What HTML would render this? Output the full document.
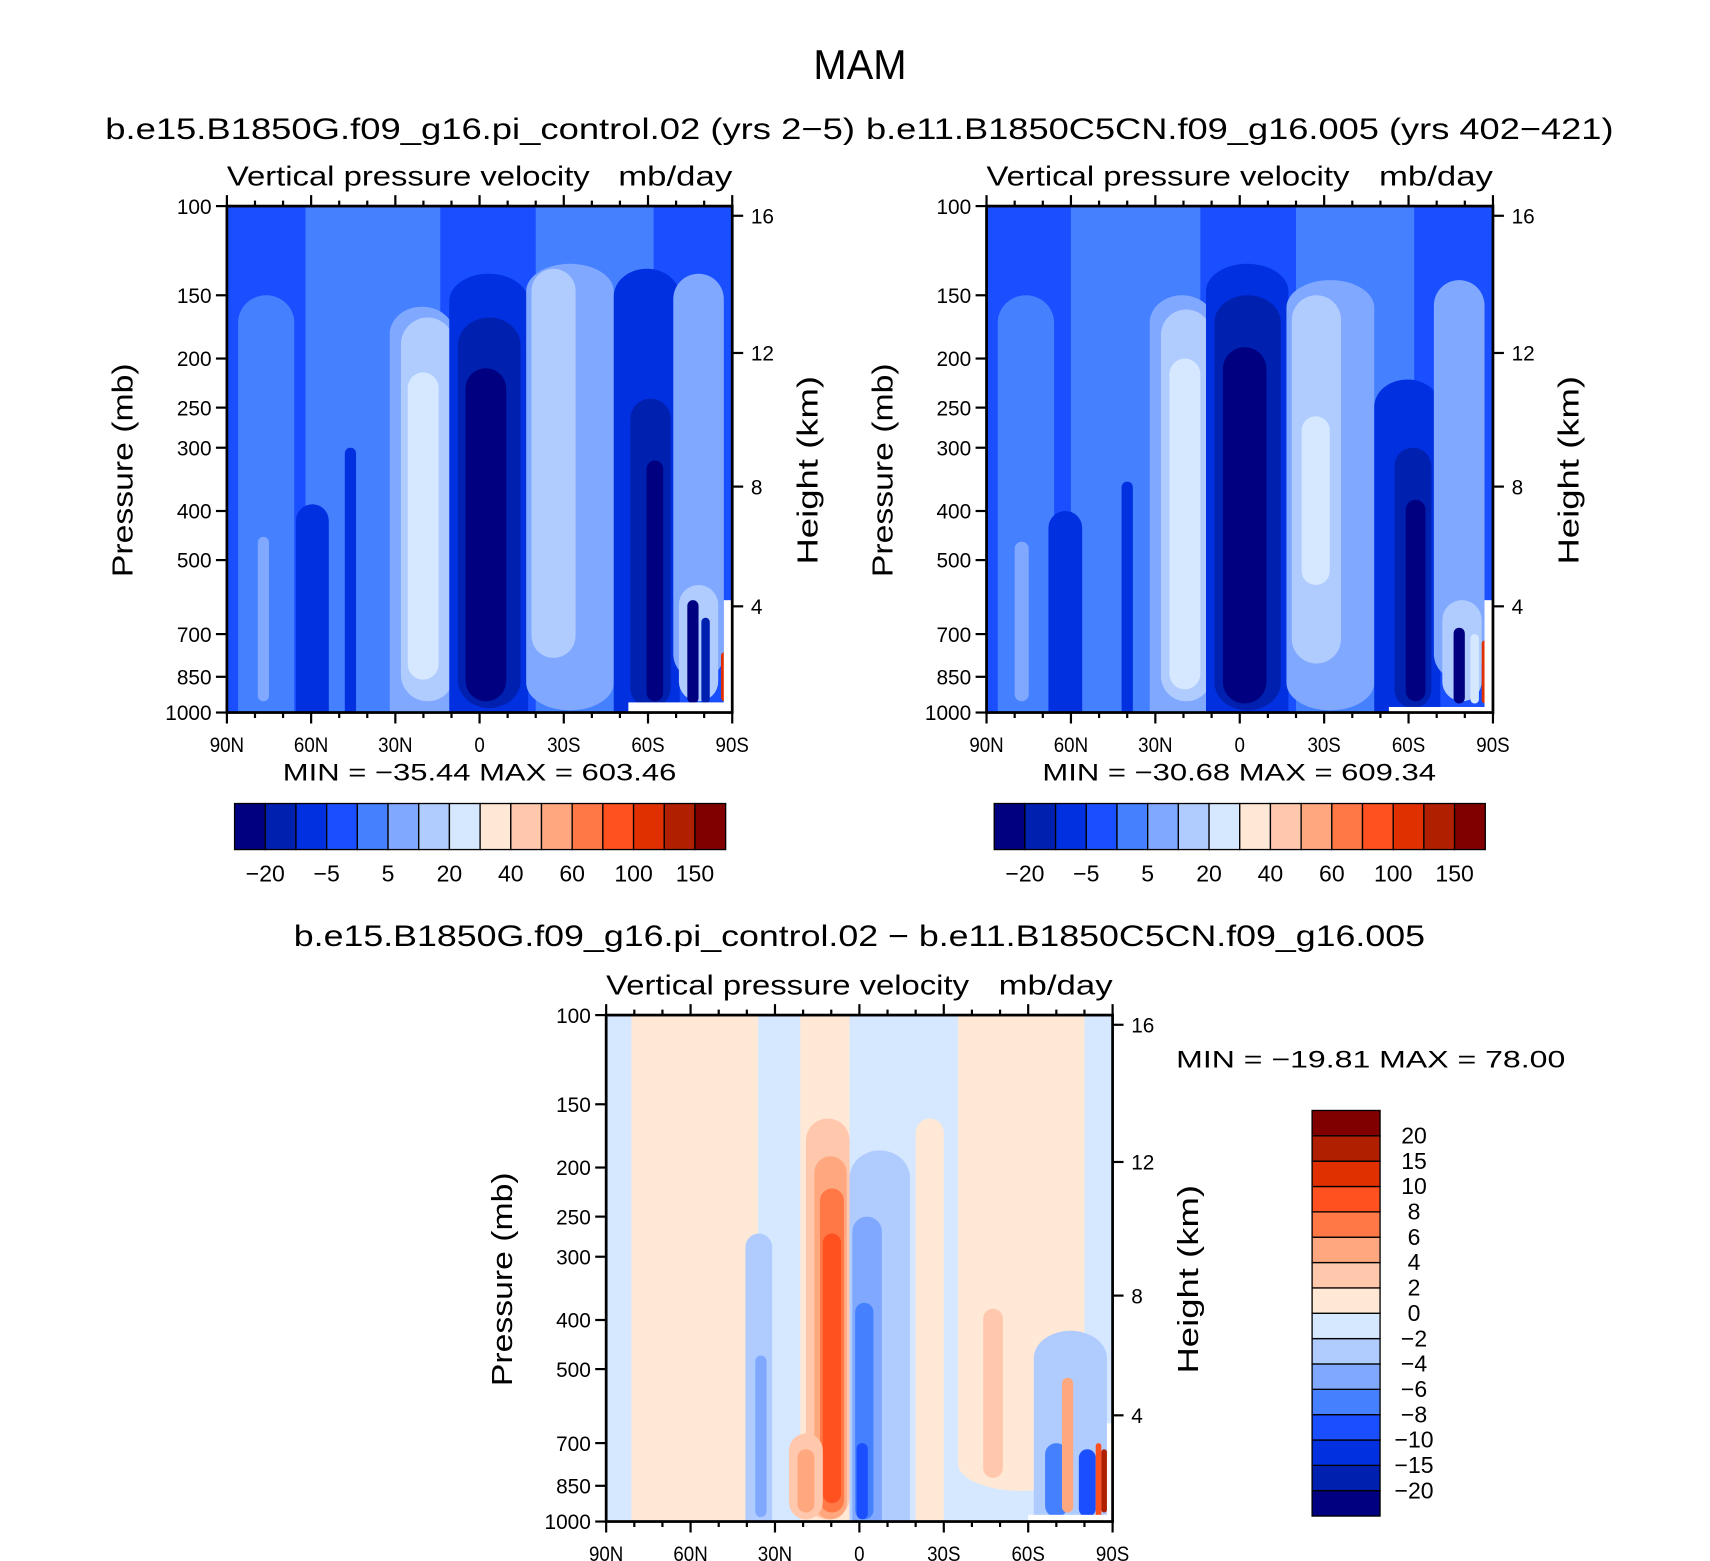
<!DOCTYPE html>
<html><head><meta charset="utf-8"><style>
html,body{margin:0;padding:0;background:#fff;}
svg{display:block;font-family:"Liberation Sans",sans-serif;}
</style></head><body>
<svg id="fig" width="1710" height="1561" viewBox="0 0 1560 1424" preserveAspectRatio="none" xmlns="http://www.w3.org/2000/svg">
<rect width="1560" height="1424" fill="#fff"/>
<text x="742" y="72" font-size="38" textLength="85" lengthAdjust="spacingAndGlyphs">MAM</text>
<text x="96" y="127" font-size="27" textLength="684" lengthAdjust="spacingAndGlyphs">b.e15.B1850G.f09_g16.pi_control.02 (yrs 2−5)</text>
<text x="790" y="127" font-size="27" textLength="682" lengthAdjust="spacingAndGlyphs">b.e11.B1850C5CN.f09_g16.005 (yrs 402−421)</text>
<text x="268" y="863" font-size="27" textLength="1032" lengthAdjust="spacingAndGlyphs">b.e15.B1850G.f09_g16.pi_control.02 − b.e11.B1850C5CN.f09_g16.005</text>
<text x="1073" y="974" font-size="22" textLength="355" lengthAdjust="spacingAndGlyphs">MIN = −19.81   MAX =  78.00</text>
<g id="p1"></g>
<g id="p2"></g>
<g id="p3"></g>
<g id="cb1"></g>
<g id="cb2"></g>
<g id="cb3"></g>
</svg>
<script>
const pressTicks=[100,150,200,250,300,400,500,700,850,1000];
const latTicks=[90,60,30,0,-30,-60,-90];
const latLabels=['90N','60N','30N','0','30S','60S','90S'];
const kmTicks=[4,8,12,16];
const kmPress=[617,358,195,104.5];
const colors=["#000080","#0020b0","#0030e0","#1a4fff","#4580ff","#80a8ff","#b0ccff","#d5e8ff","#ffe8d5","#ffc8ad","#ffa880","#ff7845","#ff5020","#e03000","#b02000","#800000"];
const absLevels=[-20,-10,-5,0,5,10,20,30,40,50,60,80,100,120,150];
const absLabels=['−20','−5','5','20','40','60','100','150'];
const diffLevels=[-20,-15,-10,-8,-6,-4,-2,0,2,4,6,8,10,15,20];
const diffLabels=['20','15','10','8','6','4','2','0','−2','−4','−6','−8','−10','−15','−20'];
// patches: [lat1, lat2, pTop, pBottom, value]  (value null = missing)
const p1Background=-3;
const p1Patches=[
[62,14,100,1000,2],[-20,-62,100,1000,2],[86,66,150,1000,2],
[32,9,158,1000,7],[28,9,166,950,15],[25.6,14.6,213,861,25],
[10.8,-17.3,136,1000,-7],[7.7,-14.6,166,980,-15],[5,-9.5,209,950,-25],
[-16.6,-47.8,130,990,7],[-18.5,-34.2,133,780,15],
[-47.8,-71.3,133,1000,-7],[-53.7,-68.1,240,980,-15],[-59.5,-65.4,318,950,-25],
[65.4,53.7,388,1000,-7],[79,75,450,950,7],[48,44,300,1000,-7],
[-69,-87,136,860,7],[-71,-85,560,950,15],[-74,-78,600,960,-25],[-79,-82,650,960,-15],
[-86,-88.5,760,950,100],[-53,-90,955,1000,null],[-87,-90,600,1000,null]];
const p2Background=-3;
const p2Patches=[
[60,14,100,1000,2],[-20,-62,100,1000,2],[86,66,150,1000,2],
[32,9,150,1000,7],[28,10,160,950,15],[25,14,200,900,25],
[12,-17.3,130,1000,-7],[9,-14.6,150,990,-15],[6,-9.5,190,960,-25],
[-16.6,-47.8,140,990,7],[-18.5,-36,150,800,15],[-22,-32,260,560,25],
[-47.8,-71.3,220,1000,-7],[-55,-68.1,300,980,-15],[-59,-66,380,950,-25],
[68,56,400,1000,-7],[80,75,460,950,7],[42,38,350,1000,-7],
[-69,-87,140,860,7],[-72,-86,600,950,15],[-76,-80,680,960,-25],[-82,-85,700,960,25],
[-86,-88.5,720,960,100],[-53,-90,975,1000,null],[-87,-90,600,1000,null]];
const p3Background=-1;
const p3Patches=[
[81,36,100,1000,1],[21,3.5,100,1000,1],[-35,-80,100,870,1],
[-20,-30,160,1000,1],
[19,3.5,160,990,3],[16,4.5,190,990,5],[14,5.5,220,960,7],[13,6.5,270,920,9],
[25,13,670,990,3],[22,16,720,960,5],
[3.5,-18,185,1000,-3],[2.5,-8,250,1000,-5],[1.5,-5,370,990,-7],[1,-3,700,990,-9],
[40.5,31,270,1000,-3],[37,33,470,980,-5],
[-44,-51,380,820,3],
[-62,-88,420,1000,-3],[-66,-74,700,980,-7],[-72,-76,520,960,5],[-78,-84,720,980,-9],[-84,-86,700,980,9],[-86,-88,720,960,15],
[-60,-90,970,1000,null],[-88,-90,640,1000,null]];

const NS='http://www.w3.org/2000/svg';
function mk(tag,attrs,parent){const e=document.createElementNS(NS,tag);for(const k in attrs)e.setAttribute(k,attrs[k]);parent.appendChild(e);return e;}
function colorFor(v,levels){if(v===null)return '#fff';let i=0;while(i<levels.length&&v>=levels[i])i++;return colors[i];}

function panel(gid,x0,y0,w,h,bg,patches,levels){
  const g=document.getElementById(gid);
  const lx=lat=>x0+(90-lat)/180*w;
  const py=p=>y0+Math.log(p/100)/Math.log(10)*h;
  const cid='clip'+gid;
  const cp=mk('clipPath',{id:cid},g);mk('rect',{x:x0,y:y0,width:w,height:h},cp);
  const field=mk('g',{'clip-path':'url(#'+cid+')'},g);
  
  
  const bgr=mk('rect',{x:x0,y:y0,width:w,height:h,fill:colorFor(bg,levels)},field);
  
  
  patches.forEach(pt=>{
    const xa=lx(pt[0]),xb=lx(pt[1]);
    let ya=py(pt[2]),yb=py(pt[3]);
    const ww=xb-xa;
    const cap=pt[4]===null?0:Math.min(ww/2,25);
    if(pt[2]<=100&&cap>0)ya-=cap;
    if(pt[3]>=1000&&cap>0)yb+=cap;
    const hh=yb-ya;
    const r=mk('rect',{x:xa,y:ya,width:ww,height:hh,rx:pt[4]===null?0:ww/2,ry:Math.min(hh/2,cap),fill:colorFor(pt[4],levels)},field);
    
    
  });
  const fr=mk('rect',{x:x0,y:y0,width:w,height:h,fill:'none',stroke:'#000','stroke-width':2.5},g);
  
  
  for(let lat=90;lat>=-90;lat-=10){
    const x=lx(lat),major=lat%30===0,L=major?10:5;
    mk('line',{x1:x,x2:x,y1:y0,y2:y0-L,stroke:'#000','stroke-width':2},g);
    mk('line',{x1:x,x2:x,y1:y0+h,y2:y0+h+L,stroke:'#000','stroke-width':2},g);
  }
  latTicks.forEach((lat,i)=>{
    const yy=y0+h+36;
    const t=mk('text',{x:lx(lat),y:yy,'font-size':19,'text-anchor':'middle',transform:`translate(${lx(lat)},${yy}) scale(0.9,1) translate(${-lx(lat)},${-yy})`},g);t.textContent=latLabels[i];
    
    
  });
  pressTicks.forEach(p=>{
    const y=py(p);
    mk('line',{x1:x0,x2:x0-10,y1:y,y2:y,stroke:'#000','stroke-width':2},g);
    const t=mk('text',{x:x0-14,y:y+7,'font-size':19,'text-anchor':'end'},g);t.textContent=p;
    
    
  });
  kmTicks.forEach((k,i)=>{
    const y=py(kmPress[i]);
    mk('line',{x1:x0+w,x2:x0+w+10,y1:y,y2:y,stroke:'#000','stroke-width':2},g);
    const t=mk('text',{x:x0+w+17,y:y+7,'font-size':19},g);t.textContent=k;
    
    
  });
  let t=mk('text',{x:0,y:0,'font-size':26,'text-anchor':'middle',textLength:195,lengthAdjust:'spacingAndGlyphs',transform:`translate(${x0-86},${y0+h/2+10}) rotate(-90)`},g);
  t.textContent='Pressure  (mb)';
  
  
  t=mk('text',{x:0,y:0,'font-size':26,'text-anchor':'middle',textLength:172,lengthAdjust:'spacingAndGlyphs',transform:`translate(${x0+w+78},${y0+h/2+10}) rotate(-90)`},g);
  t.textContent='Height  (km)';
  
  
  t=mk('text',{x:x0,y:y0-19,'font-size':25,textLength:331,lengthAdjust:'spacingAndGlyphs'},g);t.textContent='Vertical pressure velocity';
  
  
  t=mk('text',{x:x0+w-104,y:y0-19,'font-size':25,textLength:104,lengthAdjust:'spacingAndGlyphs'},g);t.textContent='mb/day';
  
  
}
panel('p1',207,188,461,462,p1Background,p1Patches,absLevels);
panel('p2',900,188,462,462,p2Background,p2Patches,absLevels);
panel('p3',553,926,462,462,p3Background,p3Patches,diffLevels);

function minmax(gid,x,text){const g=document.getElementById(gid);const t=mk('text',{x:x,y:712,'font-size':22,textLength:359,lengthAdjust:'spacingAndGlyphs'},g);t.textContent=text;

}
minmax('p1',258,'MIN = −35.44   MAX = 603.46');
minmax('p2',951,'MIN = −30.68   MAX = 609.34');

function hbar(gid,x0,y0,w,h){
  const g=document.getElementById(gid);const bw=w/16;
  colors.forEach((c,i)=>{const r=mk('rect',{x:x0+i*bw,y:y0,width:bw,height:h,fill:c,stroke:'#000','stroke-width':1.2},g);
    
    });
  absLabels.forEach((l,i)=>{const t=mk('text',{x:x0+(2*i+1)*bw,y:y0+h+29,'font-size':21,'text-anchor':'middle'},g);t.textContent=l;
    
    });
}
hbar('cb1',214,733,448,42);
hbar('cb2',907,733,448,42);
(function(){
  const g=document.getElementById('cb3');const x0=1197,y0=1013,w=62,h=370,bh=h/16;
  colors.forEach((c,i)=>{const r=mk('rect',{x:x0,y:y0+(15-i)*bh,width:w,height:bh,fill:c,stroke:'#000','stroke-width':1.2},g);
    
    });
  diffLabels.forEach((l,i)=>{const t=mk('text',{x:1290,y:y0+(i+1)*bh+7,'font-size':21,'text-anchor':'middle'},g);t.textContent=l;
    
    });
})();
</script>
</body></html>
